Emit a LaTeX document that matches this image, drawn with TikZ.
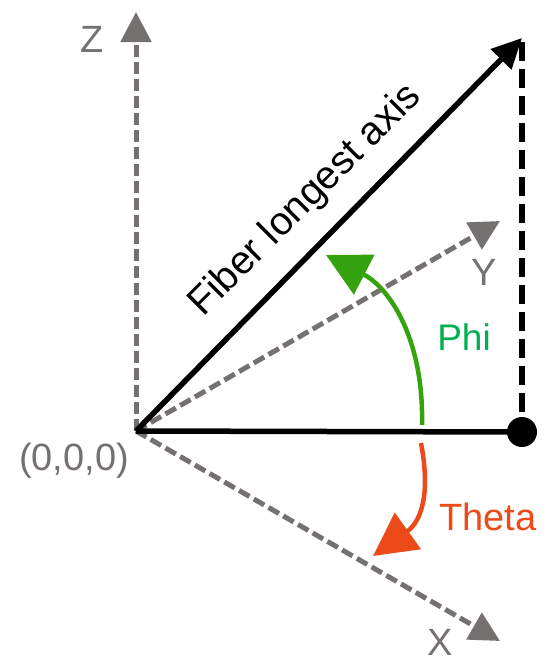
\documentclass[tikz,border=0pt]{standalone}
\usepackage{fontspec}
\setmainfont{Liberation Sans}
\usetikzlibrary{arrows.meta}
\definecolor{axisgray}{HTML}{767171}
\definecolor{arcgreen}{HTML}{35A30E}
\definecolor{phigreen}{HTML}{00B050}
\definecolor{thetared}{HTML}{EC4A18}
\begin{document}
\begin{tikzpicture}[x=1pt,y=-1pt,
  axisline/.style={draw=axisgray, line width=5pt, dash pattern=on 12pt off 5pt,
    -{Triangle[length=30pt,width=30pt]}, color=axisgray},
  fiberline/.style={draw=black, line width=5.5pt, -{Triangle[length=30pt,width=28pt]}},
  solidline/.style={draw=black, line width=5.5pt},
  dashline/.style={draw=black, line width=5.5pt, dash pattern=on 19pt off 8pt},
  axislabel/.style={text=axisgray, font=\fontsize{38}{40}\selectfont, inner sep=0pt},
  anglearc/.style={line width=4.5pt, -{Triangle[length=43pt,width=44pt]}},
  point/.style={circle, fill=black, minimum size=30pt, inner sep=0pt}
]
\useasboundingbox (0,0) rectangle (546,656);
\coordinate (O) at (136,431);
\coordinate (Zt) at (136,12);
\coordinate (Yt) at (500,221);
\coordinate (Xt) at (500,641);
\coordinate (Ft) at (522,38);
\coordinate (Ftop) at (522,42);
\node[point] (P) at (522,432) {};
% axes
\draw[axisline] (O) -- (Zt);
\draw[axisline] (O) -- (Yt);
\draw[axisline] (O) -- (Xt);
% fiber projection
\draw[solidline] (O) -- (P.center);
\draw[dashline] (Ftop) -- (P.center);
\draw[fiberline] (O) -- (Ft);
% labels
\node[axislabel] (zl) at (92,39) {Z};
\node[axislabel] (yl) at (484,272) {Y};
\node[axislabel] (xl) at (440,642) {X};
\node[axislabel] (ol) at (74,461) {(0,0,0)};
\node[anchor=base, rotate=45, inner sep=0pt, font=\fontsize{39.5}{40}\selectfont] (fl) at (313,208) {Fiber longest axis};
% angles
\coordinate (phis) at (422,425);
\coordinate (phie) at (326,255);
\draw[anglearc, arcgreen] (phis) .. controls (424,340) and (390,288) .. (phie);
\node[text=phigreen, font=\fontsize{37}{40}\selectfont, inner sep=0pt] (phil) at (464,337) {Phi};
\coordinate (ths) at (421,443);
\coordinate (the) at (373,556);
\draw[anglearc, thetared] (ths) .. controls (430,490) and (423,520) .. (the);
\node[text=thetared, font=\fontsize{38}{40}\selectfont, inner sep=0pt] (thl) at (488,517) {Theta};
\end{tikzpicture}
\end{document}
